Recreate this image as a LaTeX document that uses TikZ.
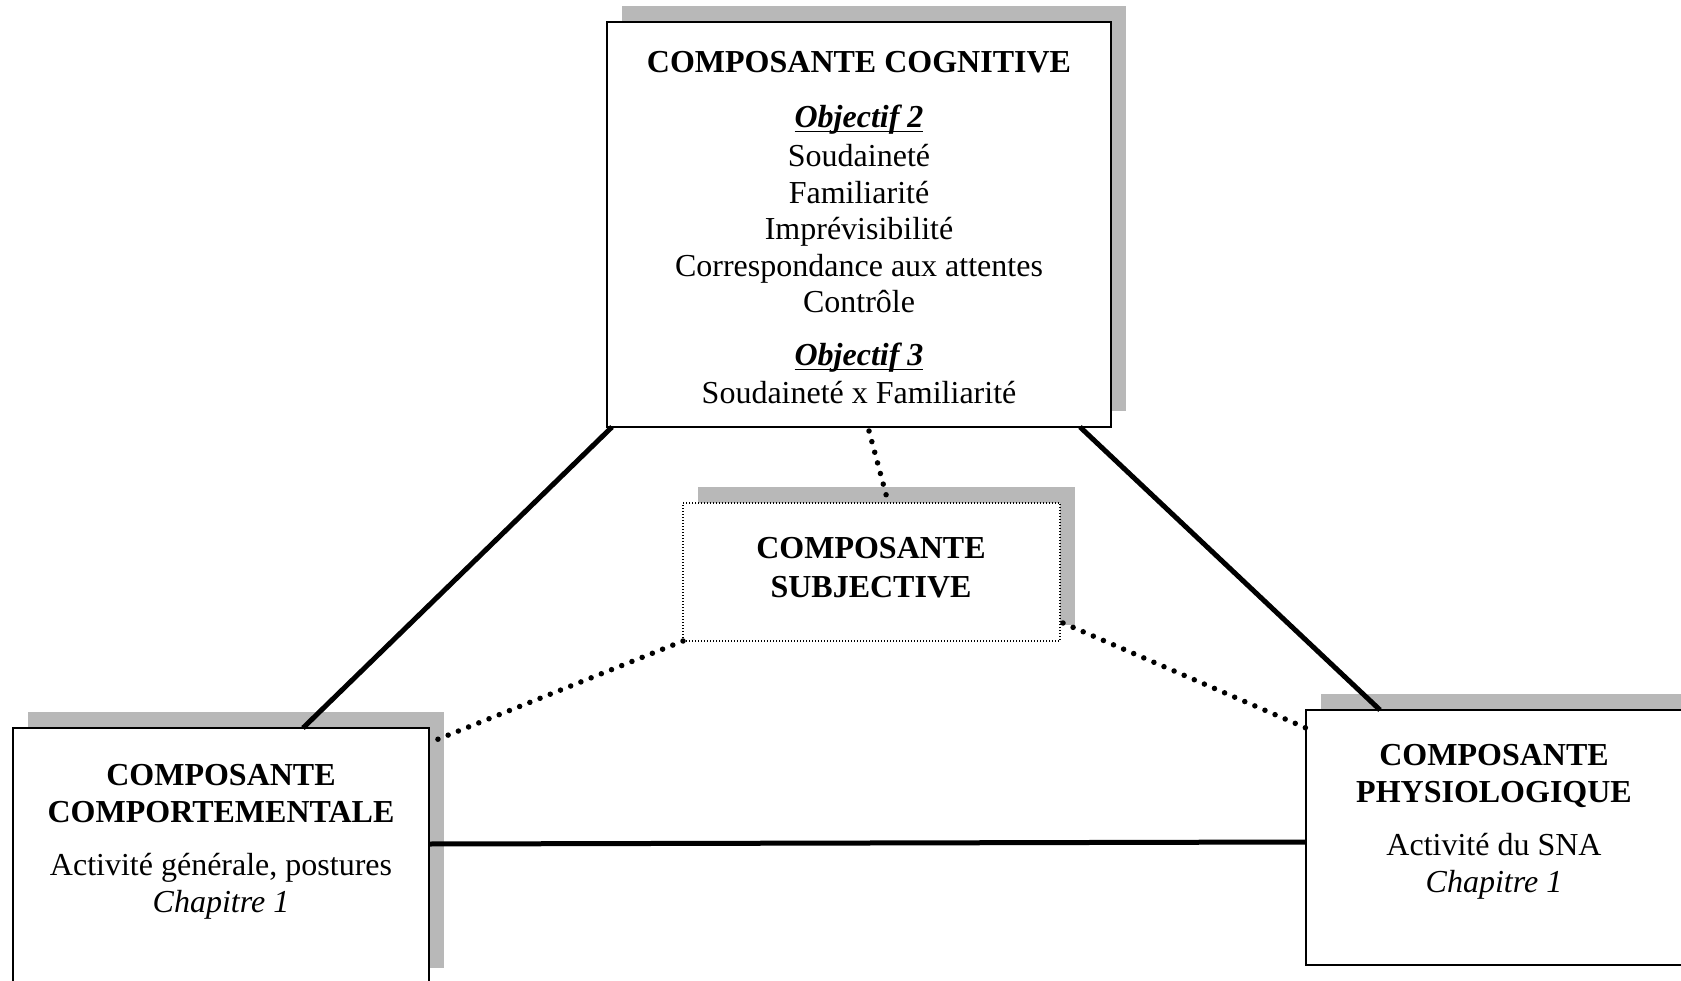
\documentclass[tikz,border=0pt]{standalone}
\usepackage{fontspec}
\setmainfont{Liberation Serif}
\usetikzlibrary{shadows,calc}
\newcommand\ulobj[1]{\setbox0\hbox{#1}\rlap{\rule[-4.5pt]{\wd0}{1.8pt}}\box0}
\begin{document}
\begin{tikzpicture}[x=1pt,y=-1pt,
  boxshadow/.style={drop shadow={shadow xshift=15pt,shadow yshift=16pt,opacity=1,fill=black!28}},
  mainbox/.style={draw=black,line width=2pt,fill=white,inner sep=0pt,outer sep=0pt,anchor=north west,boxshadow},
  subjbox/.style={draw=black,line width=1.2pt,dash pattern=on 1pt off 2pt,fill=white,inner sep=0pt,outer sep=0pt,anchor=north west,boxshadow},
  txt/.style={anchor=base,inner sep=0pt,font=\fontsize{32}{36.8}\selectfont},
  solidlink/.style={line width=5pt},
  dotlink/.style={line width=5.5pt,line cap=round,dash pattern=on 0pt off 11pt}]
\useasboundingbox (0,0) rectangle (1681,981);
\clip (0,0) rectangle (1681,981);
\fill[white] (0,0) rectangle (1681,981);

% boxes
\node[mainbox,minimum width=504pt,minimum height=405pt] (cog) at (607,22) {};
\node[subjbox,minimum width=377pt,minimum height=138pt] (subj) at (683,503) {};
\node[mainbox,minimum width=416pt,minimum height=256pt] (comp) at (13,728) {};
\node[mainbox,minimum width=377pt,minimum height=255pt] (phys) at (1306,710) {};

% cognitive text
\node[txt] (c1) at (859,73) {\bfseries COMPOSANTE COGNITIVE};
\node[txt] (c2) at (859,128) {\ulobj{\bfseries\itshape Objectif 2}};
\node[txt] (c3) at (859,167) {Soudaineté};
\node[txt] (c4) at (859,204) {Familiarité};
\node[txt] (c5) at (859,240) {Imprévisibilité};
\node[txt] (c6) at (859,277) {Correspondance aux attentes};
\node[txt] (c7) at (859,313) {Contrôle};
\node[txt] (c8) at (859,366) {\ulobj{\bfseries\itshape Objectif 3}};
\node[txt] (c9) at (859,403) {Soudaineté x Familiarité};

% subjective text
\node[txt] (s1) at (871,558) {\bfseries COMPOSANTE};
\node[txt] (s2) at (871,597) {\bfseries SUBJECTIVE};

% behavioural text
\node[txt] (b1) at (221,785) {\bfseries COMPOSANTE};
\node[txt] (b2) at (221,822) {\bfseries COMPORTEMENTALE};
\node[txt] (b3) at (221,875) {Activité générale, postures};
\node[txt] (b4) at (221,912) {\itshape Chapitre 1};

% physiological text
\node[txt] (p1) at (1494,765) {\bfseries COMPOSANTE};
\node[txt] (p2) at (1494,802) {\bfseries PHYSIOLOGIQUE};
\node[txt] (p3) at (1494,855) {Activité du SNA};
\node[txt] (p4) at (1494,892) {\itshape Chapitre 1};

% solid connectors
\draw[solidlink] ($(cog.south west)+(5,0)$) -- ($(comp.north west)+(290,0)$);
\draw[solidlink] ($(cog.south east)+(-31,0)$) -- ($(phys.north west)+(74,0)$);
\draw[solidlink] ($(comp.north east)+(0,116)$) -- ($(phys.north west)+(0,132)$);

% dotted connectors
\draw[dotlink] ($(cog.south)+(10,4)$) -- ($(subj.north)+(16,-3)$);
\draw[dotlink] (subj.south west) -- ($(comp.north east)+(2,14)$);
\draw[dotlink] ($(subj.south east)+(3,-18)$) -- ($(phys.north west)+(0,18)$);
\end{tikzpicture}
\end{document}
